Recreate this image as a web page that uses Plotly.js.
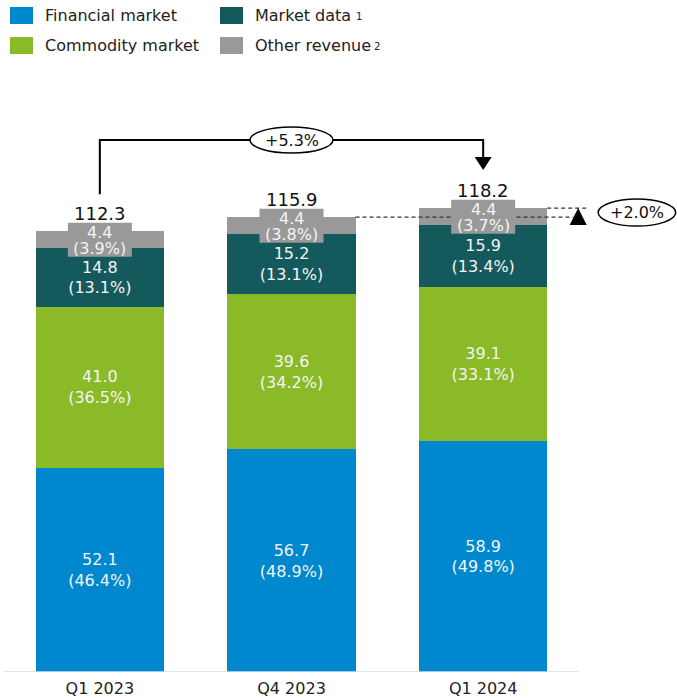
<!DOCTYPE html>
<html>
<head>
<meta charset="utf-8">
<script src="https://cdn.plot.ly/plotly-3.0.1.min.js"></script>
<style>
  html, body { margin: 0; padding: 0; background: #ffffff; }
  #chart { width: 677px; height: 698px; }
</style>
</head>
<body>
<div id="chart"></div>
<script>
// ---------------- data ----------------
const categories = ['Q1 2023', 'Q4 2023', 'Q1 2024'];
const financialMarket = [52.1, 56.7, 58.9];
const commodityMarket = [41.0, 39.6, 39.1];
const marketData = [14.8, 15.2, 15.9];
const otherRevenue = [4.4, 4.4, 4.4];
const totals = [112.3, 115.9, 118.2];
const shareFinancial = [46.4, 48.9, 49.8];
const shareCommodity = [36.5, 34.2, 33.1];
const shareMarketData = [13.1, 13.1, 13.4];
const shareOther = [3.9, 3.8, 3.7];
const growthYoY = '+5.3%';
const growthQoQ = '+2.0%';
const legendNames = ['Financial market', 'Market data', 'Commodity market', 'Other revenue'];
const legendNotes = ['', '1', '', '2'];

// ---------------- styling ----------------
const FONT = 'DejaVu Sans, Verdana, sans-serif';
const C_BLUE = '#0088cf';
const C_GREEN = '#8aba27';
const C_TEAL = '#145a5d';
const C_GRAY = '#999999';
const LABEL_COLOR = '#f4f4f4';

const W = 677, H = 698;
const M = {l: 0, r: 0, t: 90, b: 26};
const plotH = H - M.t - M.b;          // 582
const PX_PER_CAT = 191.67;            // horizontal pixels per category
const PX_PER_UNIT = 3.925;            // vertical pixels per value unit
const yMax = plotH / PX_PER_UNIT;
const axisLeftPx = 4;                 // baseline starts here
const xMin = -0.5 - axisLeftPx / PX_PER_CAT;
const xMax = xMin + W / PX_PER_CAT;
const dx = p => p / PX_PER_CAT;
const dy = p => p / PX_PER_UNIT;
const px = p => p / W;                         // paper x from pixels
const py = p => (H - M.b - p) / plotH;         // paper y from pixels

const idx = categories.map((_, i) => i);
const lbl = (vals, shares) => vals.map((v, i) => v.toFixed(1) + '<br>(' + shares[i].toFixed(1) + '%)');

function barTrace(name, vals, color, shares) {
  const t = {
    type: 'bar', name: name, x: idx, y: vals,
    marker: {color: color, line: {width: 0}},
    hoverinfo: 'skip',
    showlegend: false
  };
  if (shares) {
    t.text = lbl(vals, shares);
    t.textposition = 'inside';
    t.insidetextanchor = 'middle';
    t.textangle = 0;
    t.constraintext = 'none';
    t.textfont = {family: FONT, size: 16, color: LABEL_COLOR};
  }
  return t;
}

const traces = [
  barTrace('Financial market', financialMarket, C_BLUE, shareFinancial),
  barTrace('Commodity market', commodityMarket, C_GREEN, shareCommodity),
  barTrace('Market data', marketData, C_TEAL, shareMarketData),
  barTrace('Other revenue', otherRevenue, C_GRAY, null)
];

const shapes = [];
const annotations = [];

// baseline
shapes.push({type: 'line', xref: 'x', yref: 'y', x0: -0.5, x1: 2.5, y0: 0, y1: 0,
  line: {color: '#d9d9d9', width: 1.5}, layer: 'above'});

// bracket Q1 2023 -> Q1 2024
const yBracket = Math.max(...totals) + dy(68);
const yLeftStart = totals[0] + dy(37);
const yTip = totals[2] + dy(38);
shapes.push({type: 'path', xref: 'x', yref: 'y',
  path: 'M 0,' + yLeftStart + ' L 0,' + yBracket + ' L 2,' + yBracket + ' L 2,' + (yTip + dy(12)),
  line: {color: '#000', width: 2}});
shapes.push({type: 'path', xref: 'x', yref: 'y',
  path: 'M ' + (2 - dx(8.5)) + ',' + (yTip + dy(13)) + ' L ' + (2 + dx(8.5)) + ',' + (yTip + dy(13)) +
        ' L 2,' + yTip + ' Z',
  fillcolor: '#000', line: {color: '#000', width: 0}});
shapes.push({type: 'circle', xref: 'x', yref: 'y',
  x0: 1 - dx(41.5), x1: 1 + dx(41.5), y0: yBracket - dy(13), y1: yBracket + dy(13),
  fillcolor: '#fff', line: {color: '#000', width: 1.5}});
annotations.push({x: 1, y: yBracket, xref: 'x', yref: 'y', showarrow: false, text: growthYoY,
  font: {family: FONT, size: 16, color: '#111'}});

// dashed comparison Q4 2023 -> Q1 2024
const halfBar = 0.334;
shapes.push({type: 'line', xref: 'x', yref: 'y', x0: 1 + halfBar, x1: 2 + dx(90), y0: totals[1], y1: totals[1],
  line: {color: '#333', width: 1.3, dash: '4px,3px'}});
shapes.push({type: 'line', xref: 'x', yref: 'y', x0: 2 + halfBar, x1: 2 + dx(104), y0: totals[2], y1: totals[2],
  line: {color: '#333', width: 1.3, dash: '4px,3px'}});
const triX = 2 + dx(95);
shapes.push({type: 'path', xref: 'x', yref: 'y',
  path: 'M ' + (triX - dx(8.5)) + ',' + (totals[2] - dy(17)) + ' L ' + (triX + dx(8.5)) + ',' + (totals[2] - dy(17)) +
        ' L ' + triX + ',' + totals[2] + ' Z',
  fillcolor: '#000', line: {color: '#000', width: 0}});
const eY = (totals[1] + totals[2]) / 2;
const eX = 2 + dx(154);
shapes.push({type: 'circle', xref: 'x', yref: 'y',
  x0: eX - dx(39), x1: eX + dx(38.5), y0: eY - dy(13.5), y1: eY + dy(13.5),
  fillcolor: '#fff', line: {color: '#000', width: 1.5}});
annotations.push({x: eX, y: eY, xref: 'x', yref: 'y', showarrow: false, text: growthQoQ,
  font: {family: FONT, size: 16, color: '#111'}});

// totals and other-revenue labels (label box drawn over the dashed line)
idx.forEach(i => {
  const yc = totals[i] - otherRevenue[i] / 2;
  annotations.push({x: i, y: totals[i], xref: 'x', yref: 'y', yanchor: 'bottom',
    yshift: 5, showarrow: false, text: totals[i].toFixed(1),
    font: {family: FONT, size: 18, color: '#111'}});
  shapes.push({type: 'rect', xref: 'x', yref: 'y',
    x0: i - dx(32), x1: i + dx(32), y0: yc - dy(17), y1: yc + dy(17),
    fillcolor: C_GRAY, line: {width: 0}});
  annotations.push({x: i, y: yc, xref: 'x', yref: 'y', yshift: 8, showarrow: false,
    height: 16, borderpad: 0,
    text: otherRevenue[i].toFixed(1), font: {family: FONT, size: 16, color: LABEL_COLOR}});
  annotations.push({x: i, y: yc, xref: 'x', yref: 'y', yshift: -8, showarrow: false,
    height: 16, borderpad: 0,
    text: '(' + shareOther[i].toFixed(1) + '%)', font: {family: FONT, size: 16, color: LABEL_COLOR}});
});

// legend (manual, two columns)
const legColors = [C_BLUE, C_TEAL, C_GREEN, C_GRAY];
const noteX = [0, 354, 0, 372];
legendNames.forEach((name, k) => {
  const col = k % 2, row = Math.floor(k / 2);
  const sx = col === 0 ? 10 : 220;
  const sy = row === 0 ? 7 : 37;
  shapes.push({type: 'rect', xref: 'paper', yref: 'paper',
    x0: px(sx), x1: px(sx + 23), y0: py(sy + 17), y1: py(sy),
    fillcolor: legColors[k], line: {width: 0}});
  annotations.push({xref: 'paper', yref: 'paper', x: px(sx + 33), y: py(sy + 8.5),
    xanchor: 'left', yanchor: 'middle', showarrow: false, text: name,
    font: {family: FONT, size: 16, color: '#222'}});
  if (legendNotes[k]) {
    annotations.push({xref: 'paper', yref: 'paper', x: px(noteX[k]), y: py(sy + 9.5),
      xanchor: 'left', yanchor: 'middle', showarrow: false, text: legendNotes[k],
      font: {family: FONT, size: 10, color: '#222'}});
  }
});

const layout = {
  width: W, height: H,
  margin: M,
  paper_bgcolor: '#fff', plot_bgcolor: '#fff',
  barmode: 'stack',
  bargap: 0.332,
  showlegend: false,
  font: {family: FONT, size: 16, color: '#222'},
  xaxis: {range: [xMin, xMax], tickvals: idx, ticktext: categories, showline: false,
    showgrid: false, zeroline: false, ticks: '', fixedrange: true, ticklabelstandoff: 5,
    tickfont: {family: FONT, size: 16, color: '#222'}},
  yaxis: {range: [0, yMax], visible: false, fixedrange: true},
  shapes: shapes,
  annotations: annotations
};

Plotly.newPlot('chart', traces, layout, {displayModeBar: false, staticPlot: true});
</script>
</body>
</html>
